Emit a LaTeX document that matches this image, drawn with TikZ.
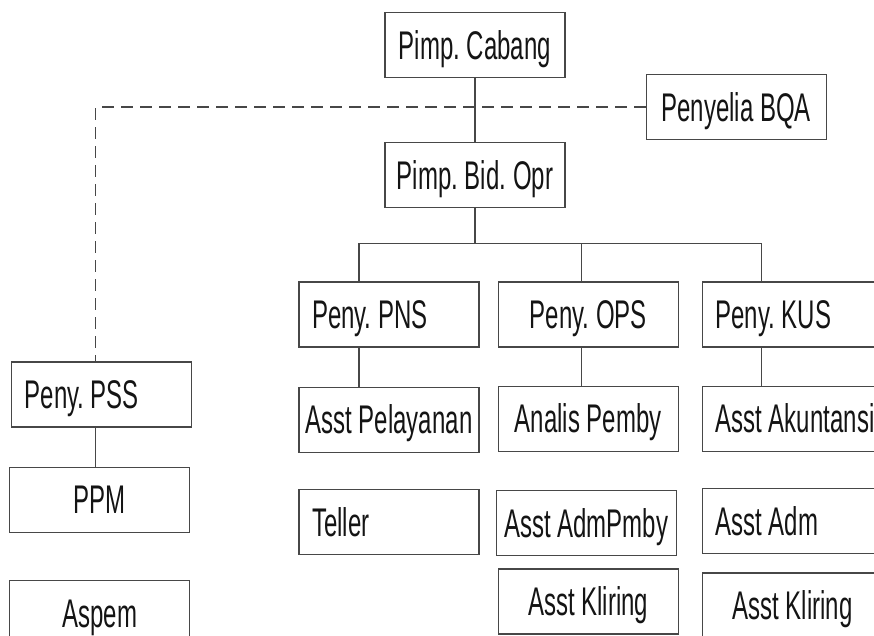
\documentclass[tikz,border=0pt]{standalone}
\usepackage{fontspec}
\setmainfont{Liberation Sans}[FakeStretch=0.6]
\usetikzlibrary{positioning}
\definecolor{boxline}{gray}{0.28}
\definecolor{boxtext}{gray}{0.08}
\newcommand{\boxfont}{\fontsize{40}{44}\selectfont\frenchspacing\hyphenpenalty=10000\relax}
\tikzset{
  box/.style={rectangle, draw=boxline, line width=1.3pt, text=boxtext,
              minimum width=180pt, minimum height=65pt, inner sep=0pt,
              text height=28pt, text depth=0pt, font=\boxfont},
  leftbox/.style={box, text width=154pt, align=flush left},
  tie/.style={draw=boxline, line width=1.3pt},
  dashline/.style={tie, dash pattern=on 12pt off 7pt},
}

\begin{document}
\begin{tikzpicture}[x=1pt, y=1pt]
  \useasboundingbox (0,0) rectangle (874,-635);
  \clip (0,0) rectangle (874,-635);

  \node[box] (cabang) at (475,-45) {Pimp. Cabang};
  \node[box] (bqa) [right=80pt of cabang, yshift=-62pt] {Penyelia BQA};
  \node[box] (bidopr) [below=64pt of cabang] {Pimp. Bid. Opr};

  % tiga penyelia di bawah bidang operasional
  \node[leftbox] (pns) [below=73pt of bidopr, xshift=-86pt] {Peny. PNS};
  \node[box] (ops) [right=18pt of pns] {Peny. OPS};
  \node[leftbox] (kus) [right=23pt of ops] {Peny. KUS};

  \node[box] (pelayanan) [below=39pt of pns] {Asst Pelayanan};
  \node[box] (analis) [below=38pt of ops] {Analis Pemby};
  \node[leftbox] (akuntansi) [below=38pt of kus] {\mbox{Asst Akuntansi}};

  \node[leftbox] (teller) [below=36pt of pelayanan] {Teller};
  \node[box] (admpmby) [below=38pt of analis, xshift=-2pt] {Asst AdmPmby};
  \node[box] (kliringa) [below=12pt of admpmby, xshift=2pt] {Asst Kliring};
  \node[leftbox] (asstadm) [below=36pt of akuntansi] {Asst Adm};
  \node[box] (kliringb) [below=18pt of asstadm] {Asst Kliring};

  % kolom kiri
  \node[leftbox] (pss) [left=106pt of pns, yshift=-80pt] {Peny. PSS};
  \node[box] (ppm) [below=39pt of pss, xshift=-2pt] {PPM};
  \node[box] (aspem) [below=47pt of ppm] {Aspem};

  \coordinate (bus) at ([yshift=-35pt]bidopr.south);
  \coordinate (pnsx) at ([xshift=-30pt]pns.north);
  \coordinate (opsx) at ([xshift=-7pt]ops.north);
  \coordinate (kusx) at ([xshift=-31pt]kus.north);
  \coordinate (pssx) at ([xshift=-6pt]pss.north);

  \draw[tie] (cabang.south) -- (bidopr.north);
  \draw[dashline] (bqa.west) -| (pssx);
  \draw[tie] (bidopr.south) -- (bus);
  \draw[tie] (pnsx) |- (kusx |- bus) -- (kusx);
  \draw[tie] (opsx |- bus) -- (opsx);
  \draw[tie] (pnsx |- pns.south) -- (pnsx |- pelayanan.north);
  \draw[tie] (opsx |- ops.south) -- (opsx |- analis.north);
  \draw[tie] (kusx |- kus.south) -- (kusx |- akuntansi.north);
  \draw[tie] (pssx |- pss.south) -- (pssx |- ppm.north);
\end{tikzpicture}
\end{document}
